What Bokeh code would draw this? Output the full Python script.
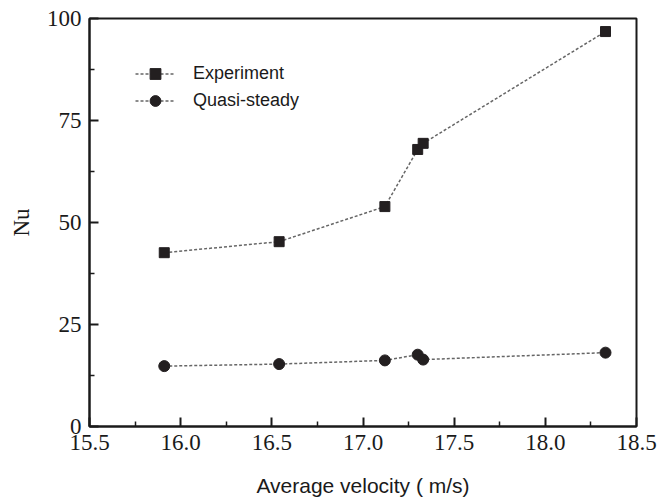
from bokeh.plotting import figure
from bokeh.embed import file_html
from bokeh.resources import INLINE
from bokeh.models import Range1d, FixedTicker

# Data
velocity = [15.91, 16.54, 17.12, 17.30, 17.33, 18.33]
nu_experiment = [42.6, 45.3, 53.9, 67.9, 69.4, 96.8]
nu_quasi_steady = [14.8, 15.3, 16.2, 17.6, 16.4, 18.1]

x_ticks = [15.5, 16.0, 16.5, 17.0, 17.5, 18.0, 18.5]
x_minor = [15.75, 16.25, 16.75, 17.25, 17.75, 18.25]
y_ticks = [0, 25, 50, 75, 100]
y_minor = [12.5, 37.5, 62.5, 87.5]

p = figure(width=657, height=502, output_backend="svg", toolbar_location=None,
           x_range=Range1d(15.5, 18.5), y_range=Range1d(0, 100),
           min_border_left=89, min_border_right=21, min_border_top=18, min_border_bottom=76)

p.grid.visible = False
p.outline_line_color = "#1a1a1a"
p.outline_line_width = 2
p.background_fill_color = "white"
p.border_fill_color = "white"

line_color = "#666666"
mark_color = "#231f20"

p.line(velocity, nu_experiment, line_color=line_color, line_dash="3 2", line_width=1.5,
       legend_label="Experiment")
p.scatter(velocity, nu_experiment, marker="square", size=10, fill_color=mark_color,
          line_color=mark_color, legend_label="Experiment")
p.line(velocity, nu_quasi_steady, line_color=line_color, line_dash="3 2", line_width=1.5,
       legend_label="Quasi-steady")
p.scatter(velocity, nu_quasi_steady, marker="circle", size=11, fill_color=mark_color,
          line_color=mark_color, legend_label="Quasi-steady")

for ax in (p.xaxis[0], p.yaxis[0]):
    ax.axis_line_width = 2
    ax.axis_line_color = "#1a1a1a"
    ax.major_tick_in = 9
    ax.major_tick_out = 0
    ax.minor_tick_in = 5
    ax.minor_tick_out = 0
    ax.major_tick_line_width = 2
    ax.minor_tick_line_width = 1.5
    ax.major_tick_line_color = "#1a1a1a"
    ax.minor_tick_line_color = "#1a1a1a"
    ax.major_label_text_font = "Liberation Serif"
    ax.major_label_text_font_size = "23px"
    ax.major_label_text_color = "#1a1a1a"
    ax.axis_label_text_font_style = "normal"
    ax.axis_label_text_color = "#1a1a1a"

p.xaxis.ticker = FixedTicker(ticks=x_ticks, minor_ticks=x_minor)
p.yaxis.ticker = FixedTicker(ticks=y_ticks, minor_ticks=y_minor)
p.xaxis.major_label_overrides = {t: f"{t:.1f}" for t in x_ticks}
p.xaxis.major_label_standoff = 8
p.yaxis.major_label_standoff = 8

p.xaxis.axis_label = "Average velocity ( m/s)"
p.xaxis.axis_label_text_font = "Liberation Sans"
p.xaxis.axis_label_text_font_size = "21px"
p.xaxis.axis_label_standoff = 21

p.yaxis.axis_label = "Nu"
p.yaxis.axis_label_text_font = "Liberation Serif"
p.yaxis.axis_label_text_font_size = "23px"
p.yaxis.axis_label_standoff = 10

lg = p.legend[0]
lg.location = (46, 312)
lg.padding = 0
lg.margin = 0
lg.spacing = 0
lg.border_line_color = None
lg.background_fill_alpha = 0
lg.glyph_width = 40
lg.glyph_height = 27
lg.label_height = 27
lg.label_standoff = 18
lg.label_text_font = "Liberation Sans"
lg.label_text_font_size = "18px"
lg.label_text_color = "#1a1a1a"

open("out.html", "w").write(file_html(p, INLINE))
